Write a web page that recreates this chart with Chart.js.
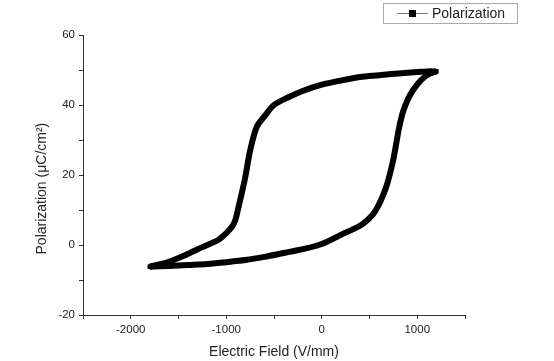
<!DOCTYPE html>
<html>
<head>
<meta charset="utf-8">
<script src="https://cdn.jsdelivr.net/npm/chart.js@4/dist/chart.umd.min.js"></script>
<style>
  html, body { margin: 0; padding: 0; background: #fff; }
  #wrap { width: 554px; height: 361px; }
</style>
</head>
<body>
<div id="wrap"><canvas id="chart" width="554" height="361"></canvas></div>
<script>
// field (V/mm) going up from the negative tip, then back down
const fieldUp = [-1800, -1600, -1400, -1200, -1000, -800, -600, -400, -200, 0, 200, 400, 500, 560, 620, 680, 720, 750, 780, 810, 850, 900, 950, 1020, 1100, 1200];
const polUp   = [-6.2, -6.0, -5.7, -5.4, -4.9, -4.3, -3.4, -2.3, -1.2, 0.3, 2.9, 5.5, 7.7, 9.7, 12.8, 17, 21, 24.5, 29, 33.5, 38, 41.5, 44, 46.5, 48.5, 49.6];
const fieldDown = [1200, 1100, 1000, 800, 600, 400, 200, 0, -200, -350, -500, -590, -680, -750, -800, -840, -870, -905, -940, -1000, -1080, -1250, -1430, -1600, -1800];
const polDown   = [49.6, 49.6, 49.4, 49.0, 48.5, 48.0, 47.0, 45.8, 44.0, 42.2, 40.0, 37.1, 33.8, 27.0, 19.5, 14.5, 11.0, 7.1, 5.2, 3.4, 1.5, -0.6, -2.9, -4.8, -6.2];

const seriesName = "Polarization";
const xTitle = "Electric Field (V/mm)";
const yTitle = "Polarization (\u03bcC/cm\u00b2)";

const upPoints = fieldUp.map((e, i) => ({ x: e, y: polUp[i] }));
const downPoints = fieldDown.map((e, i) => ({ x: e, y: polDown[i] }));

const axisColor = "#333";
const tickFont = { family: "Liberation Sans, Arial, sans-serif", size: 11.5 };
const titleFont = { family: "Liberation Sans, Arial, sans-serif", size: 14 };

function branch(points) {
  return {
    label: seriesName,
    data: points,
    borderColor: "#000",
    backgroundColor: "#000",
    borderWidth: 6,
    pointStyle: "rect",
    pointRadius: 3,
    pointBorderWidth: 0,
    tension: 0.3,
    fill: false
  };
}

// legend drawn as a boxed line+square sample like the original plot
const boxLegend = {
  id: "boxLegend",
  afterDraw(chart) {
    const ctx = chart.ctx;
    ctx.save();
    ctx.strokeStyle = "#aaa";
    ctx.lineWidth = 1;
    ctx.strokeRect(383.5, 3.5, 134, 20);
    ctx.strokeStyle = "#777";
    ctx.beginPath();
    ctx.moveTo(397, 13.5);
    ctx.lineTo(428, 13.5);
    ctx.stroke();
    ctx.fillStyle = "#000";
    ctx.fillRect(409, 10, 7, 7);
    ctx.fillStyle = "#222";
    ctx.font = "14px Liberation Sans, Arial, sans-serif";
    ctx.textBaseline = "middle";
    ctx.fillText(chart.data.datasets[0].label, 432, 14);
    ctx.restore();
  }
};

new Chart(document.getElementById("chart"), {
  type: "line",
  data: { datasets: [branch(upPoints), branch(downPoints)] },
  options: {
    responsive: false,
    animation: false,
    layout: { padding: { top: 35, right: 89, left: 0, bottom: 0 } },
    plugins: { legend: { display: false }, tooltip: { enabled: false } },
    scales: {
      x: {
        type: "linear",
        min: -2500,
        max: 1500,
        afterFit: s => { s.height = 46; },
        border: { display: true, color: axisColor, width: 1 },
        grid: { drawOnChartArea: false, drawTicks: true, tickLength: 4, color: axisColor },
        ticks: {
          stepSize: 500,
          color: "#222",
          font: tickFont,
          padding: 4,
          maxRotation: 0,
          autoSkip: false,
          callback: v => (v % 1000 === 0 ? v : "")
        },
        title: { display: true, text: xTitle, color: "#222", font: titleFont, padding: { top: 2, bottom: 0 } }
      },
      y: {
        min: -20,
        max: 60,
        afterFit: s => { s.width = 83; },
        border: { display: true, color: axisColor, width: 1 },
        grid: { drawOnChartArea: false, drawTicks: true, tickLength: 4, color: axisColor },
        ticks: {
          stepSize: 10,
          color: "#222",
          font: tickFont,
          padding: 4,
          autoSkip: false,
          callback: v => (v % 20 === 0 ? v : "")
        },
        title: { display: true, text: yTitle + "       ", color: "#222", font: titleFont, padding: { top: 34, bottom: 4 } }
      }
    }
  },
  plugins: [boxLegend]
});
</script>
</body>
</html>
